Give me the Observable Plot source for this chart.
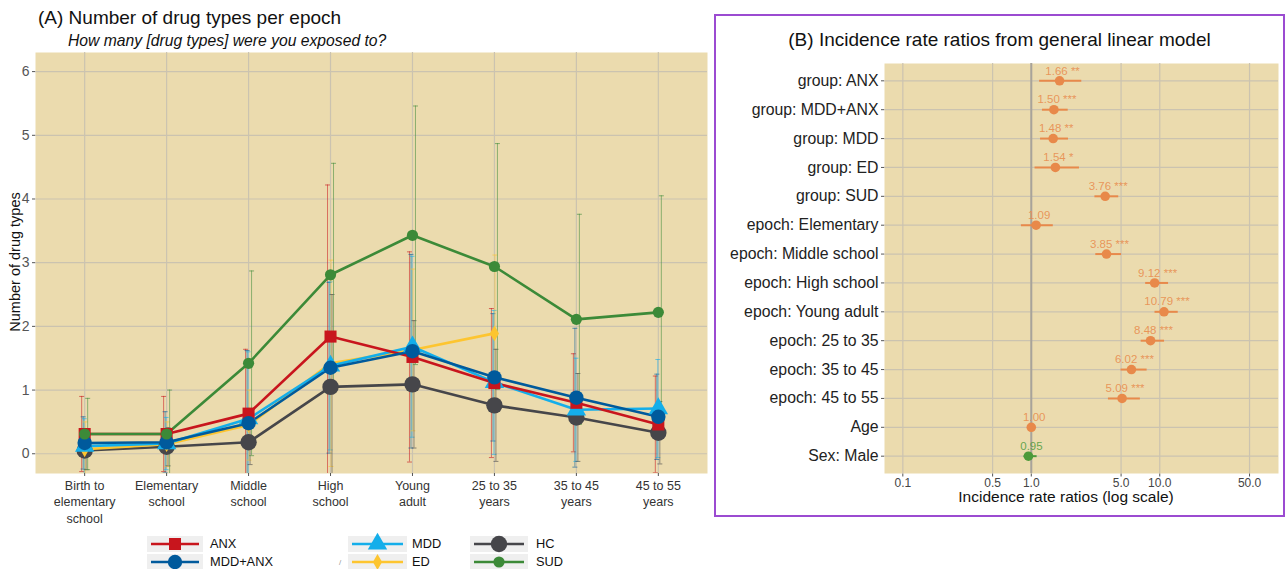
<!DOCTYPE html>
<html><head><meta charset="utf-8">
<script src="https://cdn.jsdelivr.net/npm/d3@7"></script>
<script src="https://cdn.jsdelivr.net/npm/@observablehq/plot@0.6"></script>
<style>
body{margin:0;background:#fff;font-family:"Liberation Sans",Arial,sans-serif;}
#root{position:relative;width:1287px;height:569px;overflow:hidden;background:#fff;}
.abs{position:absolute;white-space:nowrap;}
</style></head><body><div id="root"></div>
<script>
// ---------- Panel A data ----------
const epochs = ["Birth to\nelementary\nschool","Elementary\nschool","Middle\nschool","High\nschool","Young\nadult","25 to 35\nyears","35 to 45\nyears","45 to 55\nyears"];
const groups = ["ANX","MDD+ANX","MDD","ED","HC","SUD"];
const groupColors = ["#C8151D","#005A9C","#14AEEA","#FDC530","#46464A","#3C8A38"];
const groupSymbols = ["square","circle","triangle","diamond","circle","circle"];
const meanANX = [0.31,0.31,0.63,1.84,1.52,1.11,0.80,0.46];
const sdANX   = [0.59,0.59,1.01,2.38,1.65,1.17,0.77,0.76];
const meanMDDANX = [0.17,0.18,0.48,1.35,1.61,1.20,0.88,0.58];
const sdMDDANX   = [0.41,0.48,1.14,1.34,1.52,1.00,1.09,0.67];
const meanMDD = [0.12,0.16,0.55,1.38,1.68,1.12,0.69,0.71];
const sdMDD   = [0.43,0.41,1.05,1.32,1.42,1.13,0.81,0.77];
const meanED = [0.07,0.15,0.45,1.42,1.63,1.89];
const sdED   = [0.43,0.35,0.55,1.62,1.27,1.23];
const meanHC = [0.05,0.11,0.18,1.05,1.09,0.76,0.57,0.33];
const sdHC   = [0.30,0.30,0.35,1.45,1.00,0.88,0.69,0.49];
const meanSUD = [0.31,0.31,1.42,2.81,3.43,2.94,2.11,2.22];
const sdSUD   = [0.56,0.69,1.45,1.75,2.03,1.93,1.65,1.83];
const yTicksA = [0,1,2,3,4,5,6];

// ---------- Panel B data ----------
const terms = ["group: ANX","group: MDD+ANX","group: MDD","group: ED","group: SUD","epoch: Elementary","epoch: Middle school","epoch: High school","epoch: Young adult","epoch: 25 to 35","epoch: 35 to 45","epoch: 45 to 55","Age","Sex: Male"];
const irr    = [1.66,1.50,1.48,1.54,3.76,1.09,3.85,9.12,10.79,8.48,6.02,5.09,1.00,0.95];
const ciLow  = [1.15,1.21,1.17,1.06,3.10,0.83,3.15,7.70,9.10,7.10,4.95,3.95,0.99,0.87];
const ciHigh = [2.45,1.92,1.93,2.35,4.75,1.47,5.00,11.6,13.8,10.8,7.90,7.00,1.01,1.10];
const stars  = ["**","***","**","*","***","","***","***","***","***","***","***","",""];
const xTicksB = [0.1,0.5,1,5,10,50];

const root = document.getElementById("root");
function addDiv(html, style){const d=document.createElement("div");d.className="abs";d.innerHTML=html;Object.assign(d.style,style);root.appendChild(d);return d;}

// ---------- Panel A ----------
const meansList = [meanANX,meanMDDANX,meanMDD,meanED,meanHC,meanSUD];
const sdList = [sdANX,sdMDDANX,sdMDD,sdED,sdHC,sdSUD];
const rowsByGroup = groups.map((g,gi)=>meansList[gi].map((m,i)=>({group:g,epoch:epochs[i],mean:m,sd:sdList[gi][i]})));
const sizes = {ANX:6.8,"MDD+ANX":7.2,MDD:7.2,ED:4.8,HC:8.2,SUD:5.6};
const dodge = {ANX:-3,"MDD+ANX":-1.5,MDD:-0.5,ED:0.5,HC:1.5,SUD:3};
const capSymbol = {draw(ctx,size){const w=Math.sqrt(size/Math.PI);ctx.moveTo(-w,0);ctx.lineTo(w,0);}};
const vTickSymbol = {draw(ctx,size){const w=Math.sqrt(size/Math.PI);ctx.moveTo(0,0);ctx.lineTo(0,w);}};
const drawOrder = ["HC","ED","MDD","ANX","MDD+ANX","SUD"];
const bg = "#EBDBAE", gridC = "#CBC3B0";

const marksA = [Plot.frame({fill:bg,stroke:null}),
  Plot.gridY(yTicksA,{stroke:gridC,strokeOpacity:1,strokeWidth:1.2}),
  Plot.gridX({stroke:gridC,strokeOpacity:1,strokeWidth:1.2})];
groups.forEach((g,gi)=>{
  const rows=rowsByGroup[gi], c=groupColors[gi], dx=dodge[g];
  marksA.push(Plot.ruleX(rows,{x:"epoch",y1:d=>d.mean-d.sd,y2:d=>d.mean+d.sd,stroke:c,strokeOpacity:0.55,strokeWidth:1,dx,clip:true}));
  marksA.push(Plot.dot(rows,{x:"epoch",y:d=>d.mean+d.sd,symbol:capSymbol,r:2.5,stroke:c,strokeOpacity:0.6,strokeWidth:1,dx,clip:true}));
  marksA.push(Plot.dot(rows,{x:"epoch",y:d=>d.mean-d.sd,symbol:capSymbol,r:2.5,stroke:c,strokeOpacity:0.6,strokeWidth:1,dx,clip:true}));
});
drawOrder.forEach(g=>{
  const gi=groups.indexOf(g);
  marksA.push(Plot.line(rowsByGroup[gi],{x:"epoch",y:"mean",stroke:groupColors[gi],strokeWidth:2.6}));
});
drawOrder.forEach(g=>{
  const gi=groups.indexOf(g);
  marksA.push(Plot.dot(rowsByGroup[gi],{x:"epoch",y:"mean",symbol:groupSymbols[gi],r:sizes[g],fill:groupColors[gi],stroke:null}));
});
marksA.push(Plot.axisY({ticks:yTicksA,tickFormat:d3.format("d"),tickSize:3,tickPadding:3,fontSize:14,color:"#555",stroke:"#555",label:null}));
marksA.push(Plot.axisX({tickSize:3,tickPadding:2,fontSize:12.5,color:"#333",stroke:"#555",lineHeight:1.3,label:null}));

const plotA = Plot.plot({
  width:712,height:525,marginTop:52,marginLeft:35,marginRight:5,marginBottom:52,
  style:{fontFamily:"Liberation Sans, Arial, sans-serif",background:"transparent",overflow:"visible"},
  x:{type:"point",domain:epochs,padding:0.6,round:false},
  y:{domain:[-0.31,6.3]},
  marks:marksA
});
plotA.style.position="absolute";plotA.style.left="0px";plotA.style.top="0px";
root.appendChild(plotA);
addDiv("(A) Number of drug types per epoch",{left:"38px",top:"7px",fontSize:"19px",color:"#111"});
addDiv("How many [drug types] were you exposed to?",{left:"68px",top:"32px",fontSize:"15.7px",fontStyle:"italic",color:"#111"});
addDiv("Number of drug types",{left:"15px",top:"262px",fontSize:"14.5px",color:"#111",transform:"translate(-50%,-50%) rotate(-90deg)"});

// ---------- Legend for panel A ----------
const legendCols = [[0,1],[2,3],[4,5]];
const colX = [[147,203,210],[348,407,412],[470,528,536]];
const rowY = [544,562];
const leg = d3.create("svg").attr("width",1287).attr("height",569).style("position","absolute").style("left","0px").style("top","0px").style("pointer-events","none");
legendCols.forEach((col,ci)=>{
  col.forEach((gi,ri)=>{
    const [x0,x1,lx]=colX[ci], y=rowY[ri], g=groups[gi];
    leg.append("rect").attr("x",x0).attr("y",y-8).attr("width",x1-x0).attr("height",16).attr("fill","#EFEFEF");
    leg.append("line").attr("x1",x0+4).attr("x2",x1-4).attr("y1",y).attr("y2",y).attr("stroke",groupColors[gi]).attr("stroke-width",2.6);
    const sym = {square:d3.symbolSquare,circle:d3.symbolCircle,triangle:d3.symbolTriangle,diamond:d3.symbolDiamond}[groupSymbols[gi]];
    const r = sizes[g];
    leg.append("path").attr("transform",`translate(${(x0+x1)/2},${y})`).attr("d",d3.symbol(sym,Math.PI*r*r)()).attr("fill",groupColors[gi]);
    leg.append("text").attr("x",lx).attr("y",y).attr("dy","0.35em").attr("font-size",12.8).attr("fill","#111").attr("font-family","Liberation Sans, Arial, sans-serif").text(g);
  });
});
leg.append("text").attr("x",339).attr("y",565).attr("font-size",8).attr("fill","#999").attr("font-family","Liberation Sans, Arial, sans-serif").text("/");
root.appendChild(leg.node());

// ---------- Panel B ----------
addDiv("",{left:"714px",top:"14px",width:"567px",height:"499px",border:"2.5px solid #9B4BD1"});
addDiv("(B) Incidence rate ratios from general linear model",{left:"716px",width:"567px",top:"29px",fontSize:"19px",color:"#111",textAlign:"center"});
const rowsB = terms.map((t,i)=>({term:t,irr:irr[i],lo:ciLow[i],hi:ciHigh[i],lab:(irr[i].toFixed(2)+(stars[i]?" "+stars[i]:""))}));
const orange="#E8894A", green="#4C9A3A";
const colB = d=>d.irr<1?green:orange;
const plotB = Plot.plot({
  width:567,height:499,marginTop:47,marginBottom:42,marginLeft:168,marginRight:5,
  style:{fontFamily:"Liberation Sans, Arial, sans-serif",background:"transparent",overflow:"visible"},
  x:{type:"log",domain:[0.072,84],axis:null},
  y:{type:"point",domain:terms,padding:0.6,round:false},
  marks:[
    Plot.frame({fill:bg,stroke:null}),
    Plot.ruleX(xTicksB,{x:d=>d,stroke:gridC,strokeWidth:1.2}),
    Plot.gridY({stroke:gridC,strokeOpacity:1,strokeWidth:1.2}),
    Plot.ruleX([1],{stroke:"#A8A39A",strokeWidth:2}),
    Plot.link(rowsB,{x1:"lo",x2:"hi",y1:"term",y2:"term",stroke:colB,strokeWidth:2}),
    Plot.dot(rowsB,{x:"irr",y:"term",r:4.8,fill:colB,stroke:null}),
    Plot.text(rowsB,{x:"irr",y:"term",text:"lab",dy:-10,fill:colB,fillOpacity:0.85,fontSize:11.5,fontFamily:"Liberation Sans Narrow, Liberation Sans, Arial",textAnchor:"middle",dx:3}),
    Plot.axisY({tickSize:3,tickPadding:3,fontSize:15.8,color:"#222",stroke:"#555",label:null}),
    Plot.dot(xTicksB,{x:d=>d,frameAnchor:"bottom",symbol:vTickSymbol,r:3,stroke:"#555",strokeWidth:1}),
    Plot.text(xTicksB,{x:d=>d,frameAnchor:"bottom",text:d3.format(".1f"),lineAnchor:"top",dy:5,fontSize:12,fill:"#444"})
  ]
});
plotB.style.position="absolute";plotB.style.left="716px";plotB.style.top="16px";
root.appendChild(plotB);
addDiv("Incidence rate ratios (log scale)",{left:"1066px",top:"497px",fontSize:"15.5px",color:"#111",transform:"translate(-50%,-50%)"});
</script></body></html>
